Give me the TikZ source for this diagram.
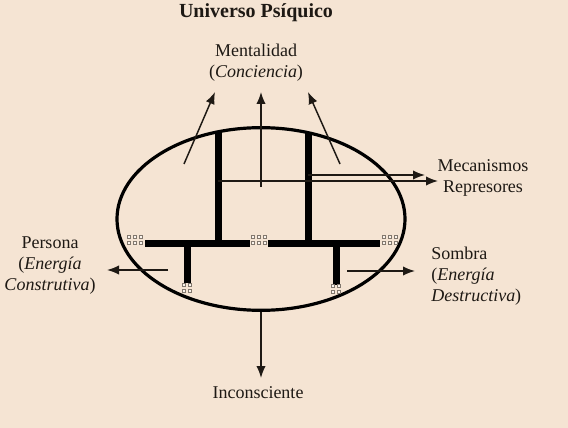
\documentclass[tikz,border=0pt]{standalone}
\usepackage{fontspec}
\setmainfont{Liberation Serif}
\usetikzlibrary{shapes.geometric, arrows.meta, positioning}
\definecolor{psiquebg}{RGB}{245, 228, 211}
\definecolor{psiquedot}{RGB}{130, 120, 110}
\definecolor{psiqueink}{RGB}{30, 25, 20}

% small grid of squares at the broken ends of the bars
\newcommand{\dotpatch}[4]{%
  \foreach \i in {1,...,#3}{\foreach \j in {1,...,#4}{
    \filldraw[draw=psiquedot, fill=white!60!psiquebg, line width=0.6pt]
      ({#1+(\i-1)*6-1.5},{#2+(\j-1)*6-1.5}) rectangle ++(3,-3);}}}

\begin{document}
\begin{tikzpicture}[
    x=0.75pt, y=-0.75pt,
    every node/.style={font=\fontsize{13.5}{15.75}\selectfont, text=psiqueink},
    txt/.style={align=center, inner sep=0pt},
    bar/.style={line width=5.25pt, draw=black},
    arrow/.style={-{Latex[length=9pt,width=7pt]}, line width=1.1pt, draw=psiqueink}
]

\fill[psiquebg] (0,0) rectangle (568,428);

\node[txt, font=\fontsize{15}{18}\selectfont\bfseries] (title) at (256,13) {Universo Psíquico};

\node[txt] (mental) at (256,63) {Mentalidad\\(\textit{Conciencia})};

\node[draw, ellipse, line width=2.4pt, minimum width=216pt, minimum height=137pt, inner sep=0pt] (psique) at (261,219) {};

\node[txt] (mecan) at (483,178) {Mecanismos\\Represores};

\node[txt] (persona) at (50,266) {Persona\\(\textit{Energía}\\\textit{Construtiva})};

\node[txt, align=left, anchor=west] (sombra) at (431,276) {Sombra\\(\textit{Energía}\\\textit{Destructiva})};

\node[txt] (incon) at (258,393) {Inconsciente};

% structure inside the psyche
\draw[bar] (218,131) -- (218,246);
\draw[bar] (308,132) -- (308,246);
\draw[bar] (145,243) -- (250,243);
\draw[bar] (268,243) -- (380,243);
\draw[bar] (187,243) -- (187,283);
\draw[bar] (336,243) -- (336,285);

\dotpatch{129}{240}{3}{2}
\dotpatch{253}{240}{3}{2}
\dotpatch{384}{240}{3}{2}
\dotpatch{184}{288}{2}{2}
\dotpatch{333}{289}{2}{2}

\coordinate (upL) at (184,164);
\coordinate (upM) at (261,187);
\coordinate (upR) at (340,164);
\coordinate (tipL) at (215,92);
\coordinate (tipM) at (261,92);
\coordinate (tipR) at (308,92);
\coordinate (repA) at (308,175);
\coordinate (repB) at (218,181);
\coordinate (tipA) at (425,175);
\coordinate (tipB) at (438,181);
\coordinate (perA) at (168,270);
\coordinate (perB) at (107,270);
\coordinate (somA) at (347,271);
\coordinate (somB) at (415,271);
\coordinate (inB) at (261,378);

\draw[arrow] (upL) -- (tipL);
\draw[arrow] (upM) -- (tipM);
\draw[arrow] (upR) -- (tipR);
\draw[arrow] (repA) -- (tipA);
\draw[arrow] (repB) -- (tipB);
\draw[arrow] (perA) -- (perB);
\draw[arrow] (somA) -- (somB);
\draw[arrow] (psique.south) -- (inB);

\end{tikzpicture}
\end{document}
